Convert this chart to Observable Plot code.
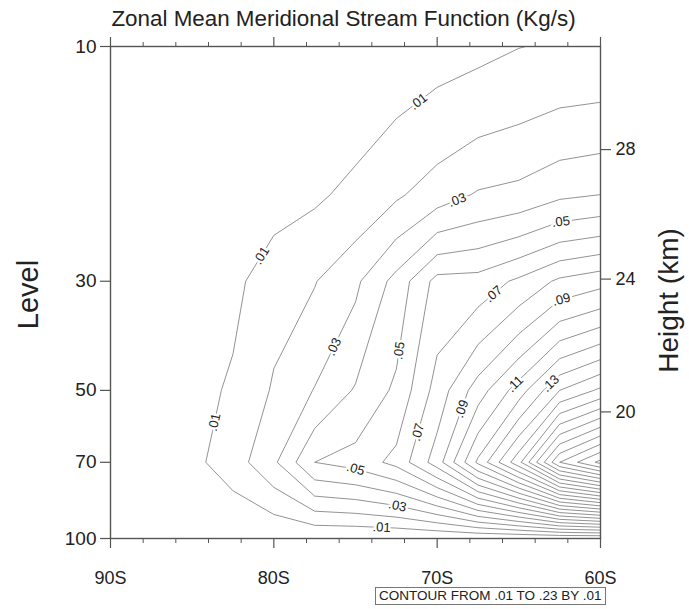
<!DOCTYPE html>
<html>
<head>
<meta charset="utf-8">
<script src="https://cdn.jsdelivr.net/npm/d3@7"></script>
<script src="https://cdn.jsdelivr.net/npm/@observablehq/plot@0.6"></script>
<style>
html,body{margin:0;padding:0;background:#fff;}
#chart{position:relative;width:689px;height:609px;font-family:"Liberation Sans",Arial,Helvetica,sans-serif;}
#caption{position:absolute;left:375px;top:587px;border:1px solid #777;font-size:13.5px;line-height:16px;padding:0 3px;color:#222;white-space:nowrap;}
</style>
</head>
<body>
<div id="chart"></div>
<script>
// ---------------- data ----------------
const lats = [-90, -87.5, -85, -82.5, -80, -77.5, -75, -72.5, -70, -67.5, -65, -62.5, -60];
const levels = [10, 20, 30, 50, 70, 100];
// stream function at each pressure level, one value per latitude above
const psi10  = [0, 0, 0, 0, 0.0005, 0.001, 0.003, 0.0043, 0.006, 0.0075, 0.0098, 0.011, 0.0115];
const psi20  = [0, 0, 0.001, 0.003, 0.005, 0.0085, 0.0124, 0.0185, 0.025, 0.031, 0.033, 0.038, 0.040];
const psi30  = [0, 0.001, 0.003, 0.0069, 0.0169, 0.0195, 0.028, 0.0435, 0.0635, 0.064, 0.072, 0.082, 0.0865];
const psi50  = [0.001, 0.002, 0.005, 0.012, 0.021, 0.0305, 0.041, 0.052, 0.074, 0.095, 0.115, 0.14, 0.152];
const psi70  = [0.001, 0.003, 0.0075, 0.015, 0.0282, 0.05, 0.054, 0.063, 0.085, 0.122, 0.157, 0.21, 0.233];
const psi100 = [0, 0, 0, 0, 0, 0, 0, 0, 0, 0, 0, 0, 0];
const contourLevels = [0.01,0.02,0.03,0.04,0.05,0.06,0.07,0.08,0.09,0.10,0.11,0.12,0.13,0.14,0.15,0.16,0.17,0.18,0.19,0.20,0.21,0.22,0.23];

const majorLatTicks = [-90, -80, -70, -60];
const majorLatLabels = ["90S", "80S", "70S", "60S"];
const minorLatTicks = [-88, -86, -84, -82, -78, -76, -74, -72, -68, -66, -64, -62];
const levelTicks = [10, 30, 50, 70, 100];
const heightKm = [20, 24, 28];
const heightP = [55.3, 29.7, 16.2];

// contour label spots (value, lat, pressure)
const labelValues = [0.01, 0.01, 0.01, 0.01, 0.03, 0.03, 0.03, 0.05, 0.05, 0.05, 0.07, 0.07, 0.09, 0.09, 0.11, 0.13];
const labelLats   = [-71.14, -80.69, -83.69, -73.4, -68.69, -76.35, -72.43, -62.45, -72.37, -74.94, -66.49, -71.27, -62.45, -68.51, -65.39, -63.18];
const labelPs     = [12.94, 26.7, 58.0, 94.5, 20.86, 40.75, 85.7, 22.36, 41.5, 71.3, 32.0, 60.7, 32.15, 54.5, 47.9, 47.9];

const title = "Zonal Mean Meridional Stream Function (Kg/s)";
const caption = "CONTOUR FROM .01 TO .23 BY .01";

// ---------------- contouring ----------------
const W = 689, H = 586;
const mL = 110, mR = 89, mT = 46, mB = 48;
const grid = [psi10, psi20, psi30, psi50, psi70, psi100];
const values = grid.flat();
const nx = lats.length, ny = levels.length;
function interp(arr, t) {
  const i = Math.max(0, Math.min(arr.length - 2, Math.floor(t)));
  return arr[i] + (t - i) * (arr[i + 1] - arr[i]);
}
const contours = d3.contours().size([nx, ny]).thresholds(contourLevels)(values);
const linePts = [];
const ringsByKey = new Map();
const xs = d3.scaleLinear([-90, -60], [mL, W - mR]);
const ys = d3.scaleLog([100, 10], [H - mB, mT]);
let rid = 0;
for (const c of contours) {
  const key = Math.round(c.value * 100);
  if (!ringsByKey.has(key)) ringsByKey.set(key, []);
  for (const poly of c.coordinates) for (const ring of poly) {
    rid++;
    const scr = [];
    const pts = ring.concat([ring[0]]);
    for (const [cx, cy] of pts) {
      const lat = interp(lats, cx - 0.5);
      const p = interp(levels, cy - 0.5);
      linePts.push({lat, p, id: rid});
      scr.push([xs(lat), p > 0 ? ys(p) : NaN]);
    }
    ringsByKey.get(key).push(scr);
  }
}

// place labels on nearest contour, oriented along it
const fmt = v => d3.format(".2f")(v).replace(/^0/, "");
const labels = labelValues.map((v, i) => {
  const px = xs(labelLats[i]), py = ys(labelPs[i]);
  let best = null;
  for (const ring of ringsByKey.get(Math.round(v * 100)) || []) {
    for (let k = 1; k < ring.length; k++) {
      const [ax, ay] = ring[k - 1], [bx, by] = ring[k];
      if (!isFinite(ay) || !isFinite(by)) continue;
      const dx = bx - ax, dy = by - ay, L2 = dx * dx + dy * dy;
      if (!L2) continue;
      let t = ((px - ax) * dx + (py - ay) * dy) / L2;
      t = Math.max(0, Math.min(1, t));
      const qx = ax + t * dx, qy = ay + t * dy;
      const d = (qx - px) ** 2 + (qy - py) ** 2;
      if (!best || d < best.d) best = {d, qx, qy, dx, dy};
    }
  }
  if (!best || best.d > 400) return {text: fmt(v), lat: labelLats[i], p: labelPs[i], angle: 0};
  let angle = Math.atan2(best.dy, best.dx) * 180 / Math.PI;
  if (angle > 90) angle -= 180;
  if (angle <= -90) angle += 180;
  return {text: fmt(v), lat: xs.invert(best.qx), p: ys.invert(best.qy), angle};
});

const axisColor = "#555";
const plot = Plot.plot({
  width: W, height: H,
  marginLeft: mL, marginRight: mR, marginTop: mT, marginBottom: mB,
  style: {fontFamily: '"Liberation Sans", Arial, Helvetica, sans-serif', background: "white", color: "#222", overflow: "visible"},
  x: {domain: [-90, -60]},
  y: {type: "log", domain: [100, 10]},
  marks: [
    Plot.line(linePts, {x: "lat", y: "p", z: "id", stroke: "#777", strokeWidth: 0.8, clip: true}),
    Plot.text(labels, {x: "lat", y: "p", text: "text", rotate: "angle", fontSize: 13, fill: "#222", stroke: "white", strokeWidth: 5, paintOrder: "stroke", clip: true}),
    Plot.frame({stroke: axisColor, strokeWidth: 1.4}),
    Plot.axisX({anchor: "bottom", ticks: majorLatTicks, tickSize: 10, tickPadding: 23, tickFormat: d => majorLatLabels[majorLatTicks.indexOf(d)], fontSize: 18, label: null, stroke: axisColor, strokeWidth: 1.2}),
    Plot.axisX({anchor: "bottom", ticks: minorLatTicks, tickSize: 5, tickFormat: () => "", label: null, stroke: axisColor, strokeWidth: 1}),
    Plot.axisX({anchor: "top", ticks: majorLatTicks, tickSize: 10, tickFormat: () => "", label: null, stroke: axisColor, strokeWidth: 1.2}),
    Plot.axisX({anchor: "top", ticks: minorLatTicks, tickSize: 5, tickFormat: () => "", label: null, stroke: axisColor, strokeWidth: 1}),
    Plot.axisY({anchor: "left", ticks: levelTicks, tickSize: 10, tickPadding: 4, tickFormat: d => String(d), fontSize: 19, label: null, stroke: axisColor, strokeWidth: 1.2}),
    Plot.axisY({anchor: "right", ticks: heightP, tickSize: 10, tickPadding: 5, tickFormat: d => String(heightKm[heightP.indexOf(d)]), fontSize: 18, label: null, stroke: axisColor, strokeWidth: 1.2}),
    Plot.text([title], {frameAnchor: "top", dx: -12, dy: -36, fontSize: 22.4, fill: "#222"}),
    Plot.text(["Level"], {frameAnchor: "left", textAnchor: "middle", dx: -82, dy: 2, rotate: -90, fontSize: 29, fill: "#222"}),
    Plot.text(["Height (km)"], {frameAnchor: "right", textAnchor: "middle", dx: 69, dy: 8, rotate: -90, fontSize: 28, fill: "#222"})
  ]
});
const chart = document.getElementById("chart");
chart.appendChild(plot);
const cap = document.createElement("div");
cap.id = "caption";
cap.textContent = caption;
chart.appendChild(cap);
</script>
</body>
</html>
